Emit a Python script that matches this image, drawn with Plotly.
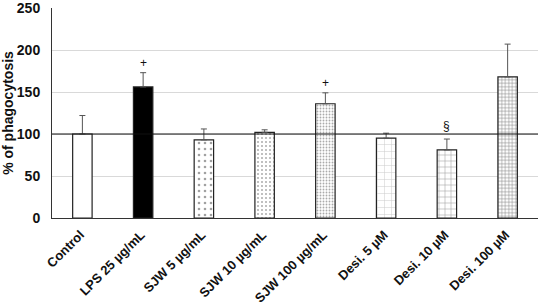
import plotly.graph_objects as go

categories = ["Control", "LPS 25 µg/mL", "SJW 5 µg/mL", "SJW 10 µg/mL", "SJW 100 µg/mL",
              "Desi. 5 µM", "Desi. 10 µM", "Desi. 100 µM"]
values = [100, 156, 93, 102, 136, 95, 81, 168]
errors = [22, 17, 13, 3, 13, 6, 13, 39]
marks = ["", "+", "", "", "+", "", "§", ""]
mark_y = [0, 185, 0, 0, 161, 0, 110, 0]
fills = ["white", "black", "white", "white", "white", "white", "white", "white"]
shapes = ["", "", ".", ".", ".", "+", "+", "+"]
psizes = [8, 8, 6, 4, 3, 7, 6, 3.5]
psolid = [0.3, 0.3, 0.15, 0.2, 0.3, 0.14, 0.15, 0.3]
pfg = ["#000", "#000", "#444", "#555", "#555", "#999", "#222", "#111"]

fig = go.Figure()
for i, c in enumerate(categories):
    pat = dict(shape=shapes[i], size=psizes[i], solidity=psolid[i],
               fgcolor=pfg[i], bgcolor=fills[i], fillmode="overlay")
    fig.add_trace(go.Bar(
        x=[c], y=[values[i]], width=0.32,
        marker=dict(color=fills[i], line=dict(color="#222", width=1.2), pattern=pat),
        error_y=dict(type="data", symmetric=False, array=[errors[i]],
                     arrayminus=[0], color="#555", thickness=1, width=3),
        showlegend=False, hoverinfo="skip",
    ))
for c, m, y in zip(categories, marks, mark_y):
    if m:
        fig.add_annotation(x=c, y=y, text=m, showarrow=False,
                           font=dict(size=12, color="#111", family="Liberation Sans"))
fig.add_hline(y=100, line=dict(color="#111", width=1.2))

fig.update_layout(
    width=540, height=307,
    margin=dict(l=52, r=2, t=8, b=89),
    plot_bgcolor="white", paper_bgcolor="white",
    font=dict(family="Liberation Sans, Arial", color="#111"),
    barmode="overlay",
)
fig.update_yaxes(range=[0, 250], dtick=50, showgrid=True, gridcolor="#d9d9d9",
                 gridwidth=1, zeroline=False, showline=True, linecolor="#333",
                 linewidth=1, ticks="", automargin=False,
                 ticklabeloverflow="allow", ticklabelstandoff=8,
                 tickfont=dict(size=14, family="Liberation Sans", color="#111"),
                 tickprefix="<b>", ticksuffix="</b>",
                 title=dict(text="<b>% of phagocytosis</b>", standoff=5,
                            font=dict(size=14, family="Liberation Sans", color="#111")))
fig.update_xaxes(showline=True, linecolor="#333", linewidth=1.2, ticks="",
                 tickangle=-45, automargin=False, ticklabelstandoff=3,
                 ticklabelshift=-2,
                 tickfont=dict(size=13, family="Liberation Sans", color="#111"),
                 tickprefix="<b>", ticksuffix="</b>")

fig.write_html("out.html", post_script="document.body.style.margin='0';",
               config={"displayModeBar": False})
